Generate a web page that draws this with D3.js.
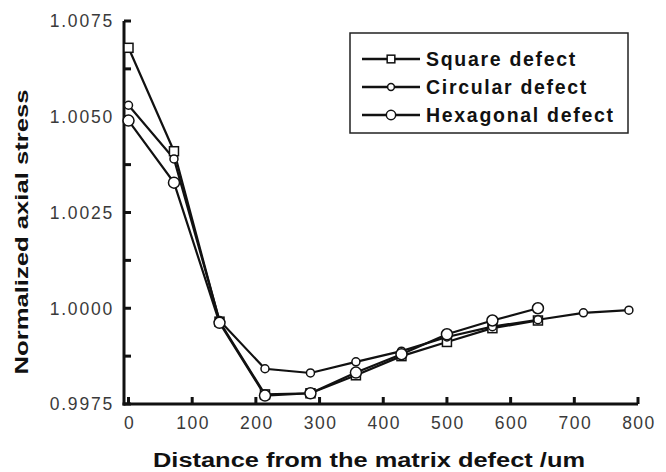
<!DOCTYPE html>
<html>
<head>
<meta charset="utf-8">
<script src="https://cdn.jsdelivr.net/npm/d3@7"></script>
<style>
  html, body { margin: 0; padding: 0; background: #fff; }
  svg { display: block; }
  text { font-family: Arial, "Liberation Sans", sans-serif; }
</style>
</head>
<body>
<svg id="chart" width="666" height="472"></svg>
<script>
// Distance from the matrix defect (um)
const distance = [0, 71.4, 142.9, 214.3, 285.7, 357.1, 428.6, 500, 571.4, 642.9, 714.3, 785.7];

// Normalized axial stress for each defect shape
const squareStress    = [1.0068, 1.0041, 0.99965, 0.99775, 0.99778, 0.99825, 0.99875, 0.99912, 0.99948, 0.99968];
const circularStress  = [1.0053, 1.0039, 0.99968, 0.99842, 0.99831, 0.99860, 0.99888, 0.99925, 0.99952, 0.99970, 0.99988, 0.99995];
const hexagonalStress = [1.0049, 1.00328, 0.99962, 0.99772, 0.99778, 0.99832, 0.99880, 0.99932, 0.99968, 1.0000];

const seriesNames = ["Square defect", "Circular defect", "Hexagonal defect"];
const xTicks = [0, 100, 200, 300, 400, 500, 600, 700, 800];
const yTicks = [0.9975, 1.0000, 1.0025, 1.0050, 1.0075];
const yMinorTicks = [0.99875, 1.00125, 1.00375, 1.00625];

const svg = d3.select("#chart");

const x = d3.scaleLinear().domain([0, 800]).range([128.5, 638]);
const y = d3.scaleLinear().domain([0.9975, 1.0075]).range([404, 21]);
const axisX0 = 124;

const series = [
  { name: seriesNames[0], values: squareStress, marker: "square" },
  { name: seriesNames[1], values: circularStress, marker: "small" },
  { name: seriesNames[2], values: hexagonalStress, marker: "large" }
];

// Axes
const axes = svg.append("g").attr("stroke", "#111").attr("stroke-width", 3).attr("fill", "none");
axes.append("line").attr("x1", axisX0).attr("x2", axisX0).attr("y1", y(1.0075)).attr("y2", y(0.9975) + 1.5);
axes.append("line").attr("x1", axisX0 - 1.5).attr("x2", x(800)).attr("y1", y(0.9975)).attr("y2", y(0.9975));

// y ticks (inward)
axes.selectAll(".ytick").data(yTicks.concat(yMinorTicks)).join("line")
  .attr("x1", axisX0).attr("x2", axisX0 + 7)
  .attr("y1", d => y(d)).attr("y2", d => y(d));
// x ticks (inward)
axes.selectAll(".xtick").data(xTicks).join("line")
  .attr("x1", d => x(d)).attr("x2", d => x(d))
  .attr("y1", y(0.9975)).attr("y2", y(0.9975) - 7);

// Tick labels
svg.append("g").selectAll("text").data(yTicks).join("text")
  .attr("x", 114).attr("y", d => y(d)).attr("dy", "0.36em")
  .attr("text-anchor", "end")
  .attr("font-size", 17.5).attr("letter-spacing", 1.8).attr("fill", "#3a3a3a")
  .text(d => d3.format(".4f")(d));

svg.append("g").selectAll("text").data(xTicks).join("text")
  .attr("x", d => x(d) + 1).attr("y", 429)
  .attr("text-anchor", "middle")
  .attr("font-size", 17.5).attr("letter-spacing", 1.5).attr("fill", "#3a3a3a")
  .text(d => d);

// Axis titles
svg.append("text")
  .attr("x", 369).attr("y", 467)
  .attr("text-anchor", "middle")
  .attr("font-size", 19.5).attr("font-weight", "bold").attr("fill", "#111")
  .attr("textLength", 432).attr("lengthAdjust", "spacingAndGlyphs")
  .text("Distance from the matrix defect /um");

svg.append("text")
  .attr("transform", "translate(28,232) rotate(-90)")
  .attr("text-anchor", "middle")
  .attr("font-size", 18.5).attr("font-weight", "bold").attr("fill", "#111")
  .attr("textLength", 285).attr("lengthAdjust", "spacingAndGlyphs")
  .text("Normalized axial stress");

// Markers
function drawMarker(g, type, cx, cy, k = 1) {
  if (type === "square") {
    g.append("rect").attr("x", cx - 4.5 * k).attr("y", cy - 4.5 * k).attr("width", 9 * k).attr("height", 9 * k)
      .attr("fill", "#fff").attr("stroke", "#111").attr("stroke-width", 1.5);
  } else if (type === "small") {
    g.append("circle").attr("cx", cx).attr("cy", cy).attr("r", 4 * k)
      .attr("fill", "#fff").attr("stroke", "#111").attr("stroke-width", 1.5);
  } else {
    g.append("circle").attr("cx", cx).attr("cy", cy).attr("r", 5.5 * k)
      .attr("fill", "#fff").attr("stroke", "#111").attr("stroke-width", 1.5);
  }
}

const line = d3.line().x((d, i) => x(distance[i])).y(d => y(d));

const plot = svg.append("g");
series.forEach(s => {
  plot.append("path").datum(s.values)
    .attr("d", line).attr("fill", "none")
    .attr("stroke", "#111").attr("stroke-width", 2.2);
});
series.forEach(s => {
  const g = plot.append("g");
  s.values.forEach((v, i) => drawMarker(g, s.marker, x(distance[i]), y(v)));
});

// Legend
const legend = svg.append("g");
legend.append("rect").attr("x", 350).attr("y", 33).attr("width", 278).attr("height", 100)
  .attr("fill", "#fff").attr("stroke", "#222").attr("stroke-width", 1.5);
series.forEach((s, i) => {
  const ly = 59 + i * 28;
  legend.append("line").attr("x1", 362).attr("x2", 420).attr("y1", ly).attr("y2", ly)
    .attr("stroke", "#111").attr("stroke-width", 2.4);
  drawMarker(legend, s.marker, 391, ly, 0.85);
  legend.append("text").attr("x", 426).attr("y", ly).attr("dy", "0.36em")
    .attr("font-size", 19.5).attr("font-weight", "bold").attr("fill", "#111")
    .attr("letter-spacing", 1.7)
    .text(s.name);
});
</script>
</body>
</html>
